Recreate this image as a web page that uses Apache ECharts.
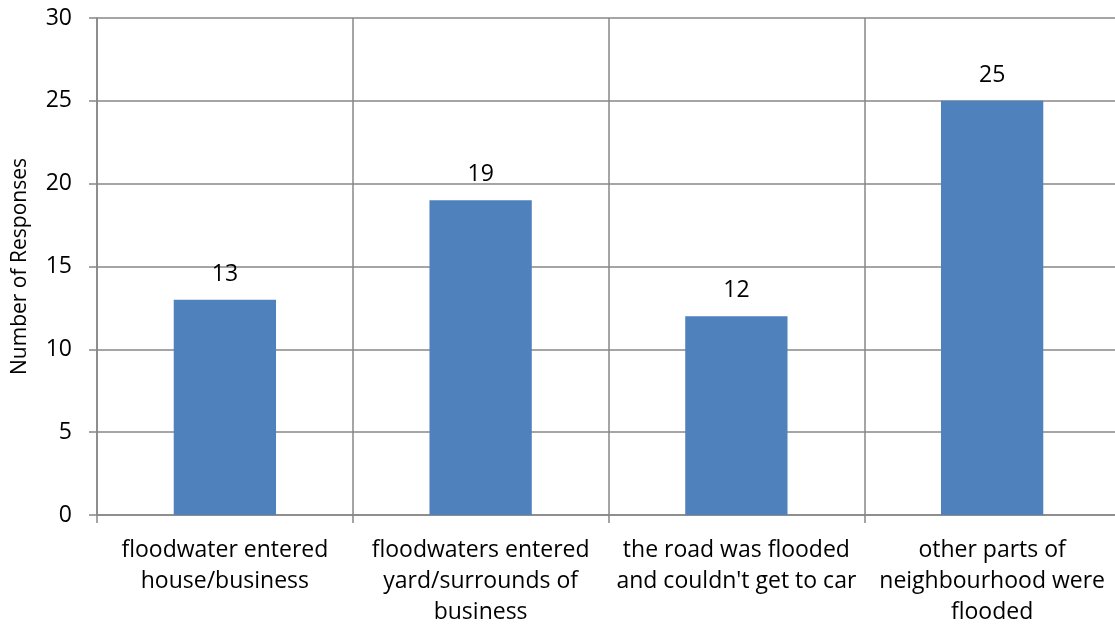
<!DOCTYPE html>
<html><head><meta charset="utf-8">
<script src="https://cdn.jsdelivr.net/npm/echarts@6/dist/echarts.min.js"></script>
<style>html,body{margin:0;padding:0;background:#fff}#c{width:1115px;height:628px}</style>
</head><body><div id="c"></div>
<script>
var categories = ["floodwater entered\nhouse/business", "floodwaters entered\nyard/surrounds of\nbusiness", "the road was flooded\nand couldn't get to car", "other parts of\nneighbourhood were\nflooded"];
var values = [13, 19, 12, 25];
var yAxisTitle = "Number of Responses";
var font = "Open Sans";
var chart = echarts.init(document.getElementById('c'));
chart.setOption({
  animation: false,
  grid: {left: 97, top: 18, width: 1023, bottom: 113, containLabel: false, outerBoundsMode: 'none'},
  xAxis: {
    type: 'category', data: categories, boundaryGap: true,
    axisLine: {lineStyle: {color: '#878787', width: 1.5}},
    axisTick: {show: true, length: 8, lineStyle: {color: '#878787', width: 1.5}},
    splitLine: {show: true, lineStyle: {color: '#878787', width: 1.5}},
    axisLabel: {color: '#000', fontFamily: font, fontSize: 23, lineHeight: 31, margin: 20, interval: 0}
  },
  yAxis: {
    type: 'value', min: 0, max: 30, interval: 5,
    name: yAxisTitle, nameLocation: 'middle', nameGap: 66, nameRotate: 90,
    nameTextStyle: {color: '#000', fontFamily: font, fontSize: 21},
    axisLine: {show: true, lineStyle: {color: '#878787', width: 1.5}},
    axisTick: {show: true, length: 8, lineStyle: {color: '#878787', width: 1.5}},
    splitLine: {show: true, lineStyle: {color: '#878787', width: 1.5}},
    axisLabel: {color: '#000', fontFamily: font, fontSize: 23, margin: 25}
  },
  series: [{
    type: 'bar', data: values, barWidth: '40%',
    itemStyle: {color: '#4F81BD'},
    label: {show: true, position: 'top', distance: 14, color: '#000', fontFamily: font, fontSize: 23}
  }]
});
</script></body></html>
